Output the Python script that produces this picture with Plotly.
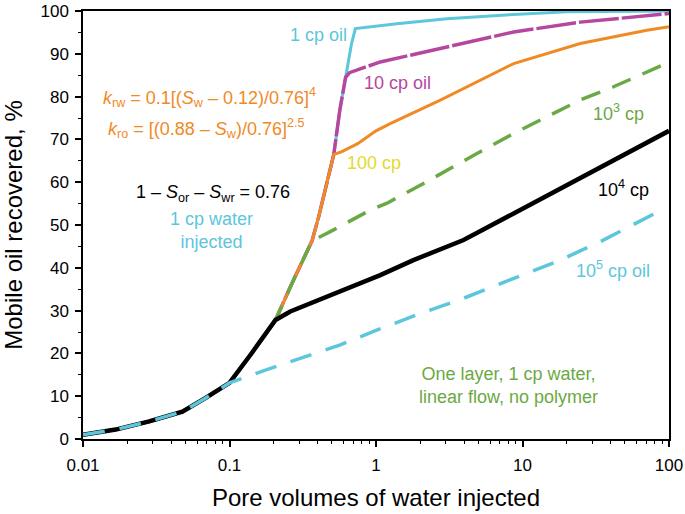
import plotly.graph_objects as go

# ---- data ----
base_x = [0.01, 0.0167, 0.0283, 0.0477, 0.0688, 0.1]
base_y = [1.0, 2.2, 4.1, 6.4, 9.6, 13.1]

shared_x = [0.14, 0.206]
shared_y = [19.8, 27.8]

steep_x = [0.274, 0.366, 0.406, 0.464, 0.515, 0.566, 0.62, 0.68, 0.723]
steep_y = [37.2, 46.3, 51.9, 60.5, 66.5, 76.8, 84.5, 92.3, 95.9]

cp1_x = [1.07, 1.39, 3.05, 8.7, 20, 100]
cp1_y = [96.6, 97.0, 98.2, 99.2, 99.8, 100.0]

cp10_x = [0.66, 1.07, 3.05, 8.7, 24.8, 70.6, 100]
cp10_y = [85.6, 88.1, 91.6, 95.1, 97.4, 98.9, 99.4]

cp100_x = [0.58, 0.75, 1.0, 1.25, 2.75, 8.7, 24.8, 70.6, 100]
cp100_y = [67.1, 69.0, 72.0, 73.7, 79.2, 87.7, 92.4, 95.5, 96.3]

cp1e3_x = [0.51, 0.914, 1.19, 2.11, 4.89, 8.7, 24.8, 41.8, 100]
cp1e3_y = [48.8, 53.5, 55.1, 59.7, 66.7, 71.4, 79.2, 82.3, 88.0]

cp1e4_x = [0.26, 0.723, 1.07, 1.8, 3.96, 8.7, 19.1, 41.8, 100]
cp1e4_y = [29.8, 36.0, 38.3, 41.8, 46.5, 52.7, 58.9, 65.2, 72.0]

cp1e5_x = [0.18, 0.57, 1.02, 1.9, 3.97, 8.24, 18.1, 33.9, 80]
cp1e5_y = [16.2, 22.0, 25.5, 29.0, 32.9, 37.2, 41.8, 46.1, 52.7]

x_ticks = [0.01, 0.1, 1, 10, 100]
x_ticktext = ["0.01", "0.1", "1", "10", "100"]

CYAN = "#5CC6DB"
MAGENTA = "#B6479E"
ORANGE = "#F08A25"
GREEN = "#6BA944"
YELLOW = "#E5D92E"
BLACK = "#000000"


def path(*parts):
    xs, ys = [], []
    for px, py in parts:
        xs += list(px)
        ys += list(py)
    return xs, ys


curves = [
    ("1 cp", [(base_x, base_y), (shared_x, shared_y), (steep_x, steep_y), (cp1_x, cp1_y)], CYAN, 3, "solid"),
    ("10 cp", [(base_x, base_y), (shared_x, shared_y), (steep_x[:7], steep_y[:7]), (cp10_x, cp10_y)], MAGENTA, 3.5, "40px,3px"),
    ("100 cp", [(base_x, base_y), (shared_x, shared_y), (steep_x[:5], steep_y[:5]), (cp100_x, cp100_y)], ORANGE, 3, "solid"),
    ("1e3 cp", [(base_x, base_y), (shared_x, shared_y), (steep_x[:2], steep_y[:2]), (cp1e3_x, cp1e3_y)], GREEN, 3.5, "20px,13px"),
    ("1e4 cp", [(base_x, base_y), (shared_x, shared_y), (cp1e4_x, cp1e4_y)], BLACK, 4.5, "solid"),
    ("1e5 cp", [(base_x, base_y), (cp1e5_x, cp1e5_y)], CYAN, 3.5, "22px,15px"),
]

fig = go.Figure()
for name, parts, color, width, dash in curves:
    xs, ys = path(*parts)
    fig.add_trace(go.Scatter(x=xs, y=ys, mode="lines", name=name,
                             line=dict(color=color, width=width, dash=dash),
                             showlegend=False, hoverinfo="skip"))

FONT = "Liberation Sans, Arial, sans-serif"
AF = 18

ann = [
    ("1 cp oil", 0.4015, 0.9433, CYAN),
    ("10 cp oil", 0.5362, 0.8315, MAGENTA),
    ("100 cp", 0.497, 0.6449, YELLOW),
    ("10<sup>3</sup> cp", 0.913, 0.7637, GREEN),
    ("10<sup>4</sup> cp", 0.9216, 0.5864, BLACK),
    ("10<sup>5</sup> cp oil", 0.9045, 0.3951, CYAN),
    ("One layer, 1 cp water,<br>linear flow, no polymer", 0.7255, 0.1244, GREEN),
    ("<i>k</i><sub>rw</sub> = 0.1[(<i>S</i><sub>w</sub> – 0.12)/0.76]<sup>4</sup>", 0.2157, 0.7985, ORANGE),
    ("<i>k</i><sub>ro</sub> = [(0.88 – <i>S</i><sub>w</sub>)/0.76]<sup>2.5</sup>", 0.2106, 0.7262, ORANGE),
    ("1 – <i>S</i><sub>or</sub> – <i>S</i><sub>wr</sub> = 0.76", 0.2225, 0.5746, BLACK),
    ("1 cp water<br>injected", 0.2191, 0.4864, CYAN),
]
for text, ax_, ay_, col in ann:
    fig.add_annotation(text=text, x=ax_, y=ay_, xref="paper", yref="paper",
                       showarrow=False, xanchor="center", yanchor="middle",
                       font=dict(family=FONT, size=AF, color=col))

minor_x = [m * d for d in [0.01, 0.1, 1, 10] for m in range(2, 10)]

fig.update_xaxes(type="log", range=[-2, 2], tickmode="array", tickvals=x_ticks,
                 ticktext=x_ticktext, ticks="outside", ticklen=6, tickwidth=1.5,
                 tickcolor="black", showline=True, linecolor="black", linewidth=1.5,
                 mirror=True, showgrid=False, zeroline=False, automargin=False,
                 ticklabelstandoff=4,
                 tickfont=dict(family=FONT, size=17, color="black"),
                 minor=dict(tickmode="array", tickvals=minor_x, ticks="outside",
                            ticklen=3, tickwidth=1, tickcolor="black", showgrid=False),
                 title=dict(text="Pore volumes of water injected",
                            font=dict(family=FONT, size=24, color="black"), standoff=15))
fig.update_yaxes(range=[0, 100], dtick=10, ticks="outside", ticklen=6, tickwidth=1.5,
                 tickcolor="black", showline=True, linecolor="black", linewidth=1.5,
                 mirror=True, showgrid=False, zeroline=False, automargin=False,
                 ticklabelstandoff=3,
                 tickfont=dict(family=FONT, size=17, color="black"),
                 minor=dict(dtick=5, ticks="outside", ticklen=3, tickwidth=1,
                            tickcolor="black", showgrid=False),
                 title=dict(text="Mobile oil recovered, %",
                            font=dict(family=FONT, size=24, color="black"), standoff=14))

fig.update_layout(width=685, height=514, autosize=False,
                  margin=dict(l=83, r=16, t=11, b=75),
                  paper_bgcolor="white", plot_bgcolor="white")

fig.write_html("out.html", config={"displayModeBar": False},
               post_script="document.body.style.margin='0px';")
